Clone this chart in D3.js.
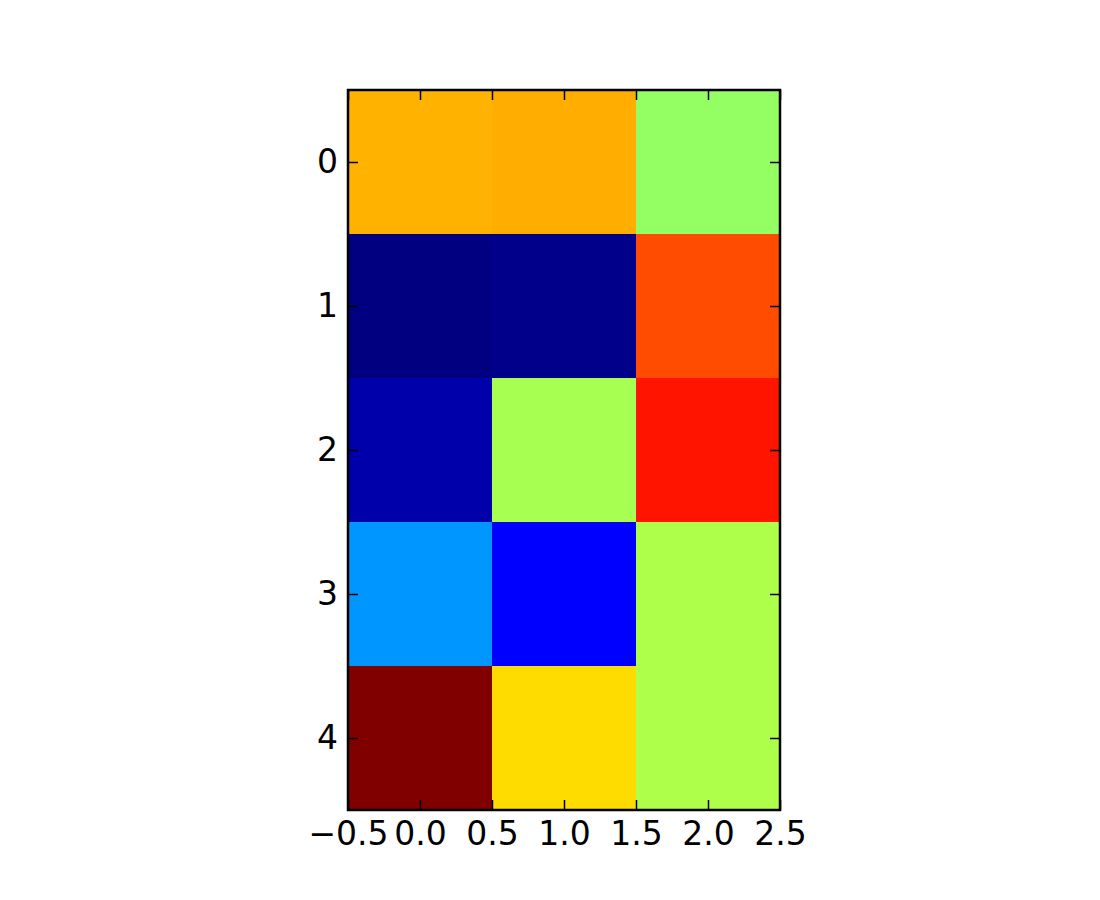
<!DOCTYPE html>
<html><head><meta charset="utf-8">
<script src="https://cdn.jsdelivr.net/npm/d3@7"></script>
<style>body{margin:0;background:#fff}</style>
</head><body>
<svg id="c" width="1100" height="900"></svg>
<script>
// Data (normalized 0..1, jet colormap)
const rows = [0, 1, 2, 3, 4];
const cols = [0, 1, 2];
const values = [
  [0.72, 0.726, 0.53],
  [0.0, 0.01, 0.83],
  [0.037, 0.552, 0.889],
  [0.272, 0.12, 0.56],
  [1.0, 0.677, 0.56]
];
const xTicks = [-0.5, 0.0, 0.5, 1.0, 1.5, 2.0, 2.5];
const yTicks = [0, 1, 2, 3, 4];

function seg(pts, v) {
  for (let i = 1; i < pts.length; i++) {
    if (v <= pts[i][0]) {
      const [x0, y0] = pts[i - 1], [x1, y1] = pts[i];
      return y0 + (y1 - y0) * (v - x0) / (x1 - x0);
    }
  }
  return pts[pts.length - 1][1];
}
const R = [[0,0],[0.35,0],[0.66,1],[0.89,1],[1,0.5]];
const G = [[0,0],[0.125,0],[0.375,1],[0.64,1],[0.91,0],[1,0]];
const B = [[0,0.5],[0.11,1],[0.34,1],[0.65,0],[1,0]];
function jet(v) {
  return d3.rgb(Math.round(255*seg(R,v)), Math.round(255*seg(G,v)), Math.round(255*seg(B,v))).toString();
}

const svg = d3.select("#c");
const L = 348, Rr = 780, T = 90, Bt = 810;
const x = d3.scaleLinear().domain([-0.5, 2.5]).range([L, Rr]);
const y = d3.scaleLinear().domain([-0.5, 4.5]).range([T, Bt]);

const cells = [];
rows.forEach(r => cols.forEach(c => cells.push({r, c, v: values[r][c]})));
svg.append("g").selectAll("rect").data(cells).join("rect")
  .attr("x", d => x(d.c - 0.5))
  .attr("y", d => y(d.r - 0.5))
  .attr("width", x(1) - x(0) + 0.5)
  .attr("height", y(1) - y(0) + 0.5)
  .attr("fill", d => jet(d.v))
  .attr("shape-rendering", "crispEdges");

const font = "DejaVu Sans";
const fs = 33;
const tl = 10;
function fmt(v){ return v < 0 ? "\u2212" + Math.abs(v).toFixed(1) : v.toFixed(1); }

const xb = svg.append("g").attr("transform", `translate(0,${Bt})`)
  .call(d3.axisBottom(x).tickValues(xTicks).tickFormat(fmt).tickSizeInner(-tl).tickSizeOuter(0).tickPadding(12));
const xt = svg.append("g").attr("transform", `translate(0,${T})`)
  .call(d3.axisTop(x).tickValues(xTicks).tickFormat("").tickSizeInner(-tl).tickSizeOuter(0));
const yl = svg.append("g").attr("transform", `translate(${L},0)`)
  .call(d3.axisLeft(y).tickValues(yTicks).tickFormat(d3.format("d")).tickSizeInner(-tl).tickSizeOuter(0).tickPadding(10));
const yr = svg.append("g").attr("transform", `translate(${Rr},0)`)
  .call(d3.axisRight(y).tickValues(yTicks).tickFormat("").tickSizeInner(-tl).tickSizeOuter(0));

[xb, xt, yl, yr].forEach(g => {
  g.select(".domain").remove();
  g.selectAll(".tick line").attr("stroke", "#000").attr("stroke-width", 1.5);
  g.selectAll("text").attr("font-family", font).attr("font-size", fs).attr("fill", "#000");
});

svg.append("rect").attr("x", L).attr("y", T).attr("width", Rr - L).attr("height", Bt - T)
  .attr("fill", "none").attr("stroke", "#000").attr("stroke-width", 2.5);
</script>
</body></html>
